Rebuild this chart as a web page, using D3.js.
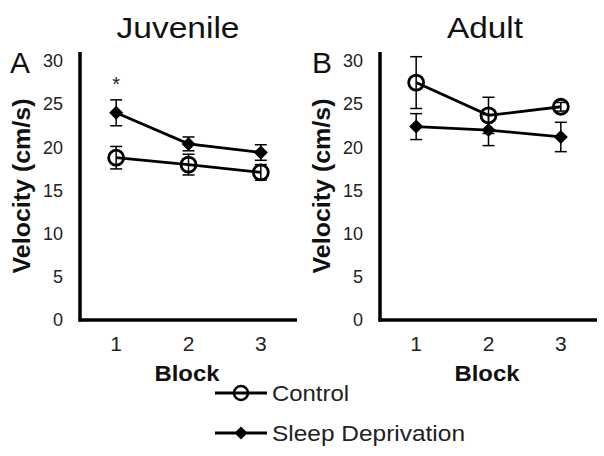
<!DOCTYPE html>
<html>
<head>
<meta charset="utf-8">
<style>
  body { margin: 0; background: #fff; }
  svg { font-family: "Liberation Sans", Arial, sans-serif; }
</style>
</head>
<body>
<svg width="604" height="456"></svg>
<script src="https://d3js.org/d3.v7.min.js"></script>
<script>
// data
const blocks = [1, 2, 3];
const yTicks = [0, 5, 10, 15, 20, 25, 30];

const juvControl = [18.8, 18.0, 17.1];
const juvControlErr = [1.3, 1.2, 0.9];
const juvSleep = [24.0, 20.4, 19.4];
const juvSleepErr = [1.5, 0.8, 0.9];

const adControl = [27.5, 23.7, 24.7];
const adControlErr = [3.0, 2.1, 0.5];
const adSleep = [22.4, 22.0, 21.2];
const adSleepErr = [1.5, 1.8, 1.7];

const panels = [
  { title: "Juvenile", letter: "A", x0: 80, titleX: 178, titleW: 123, letterX: 20,
    control: juvControl, controlErr: juvControlErr,
    sleep: juvSleep, sleepErr: juvSleepErr, star: [1] },
  { title: "Adult", letter: "B", x0: 380, titleX: 485, titleW: 76, letterX: 322,
    control: adControl, controlErr: adControlErr,
    sleep: adSleep, sleepErr: adSleepErr, star: [] }
];

const svg = d3.select("svg");
const plotTop = 52, plotBottom = 320, plotW = 217;

const y = d3.scaleLinear().domain([0, 30]).range([plotBottom, 61]);

function diamond(g, cx, cy, r) {
  g.append("path")
    .attr("d", `M${cx},${cy - r}L${cx + r},${cy}L${cx},${cy + r}L${cx - r},${cy}Z`)
    .attr("fill", "#000");
}

panels.forEach(p => {
  const g = svg.append("g");
  const x = d3.scalePoint().domain(blocks).range([p.x0, p.x0 + plotW]).padding(0.5);

  // axes lines
  g.append("line").attr("x1", p.x0).attr("x2", p.x0).attr("y1", plotTop).attr("y2", plotBottom + 1.5)
    .attr("stroke", "#000").attr("stroke-width", 3.5);
  g.append("line").attr("x1", p.x0 - 1.5).attr("x2", p.x0 + plotW).attr("y1", plotBottom).attr("y2", plotBottom)
    .attr("stroke", "#000").attr("stroke-width", 3.5);

  // tick labels
  g.selectAll(".yt").data(yTicks).join("text")
    .attr("x", p.x0 - 17).attr("y", d => y(d)).attr("dy", "0.35em")
    .attr("text-anchor", "end").attr("font-size", 18).attr("fill", "#222")
    .text(d => d);
  g.selectAll(".xt").data(blocks).join("text")
    .attr("x", d => x(d)).attr("y", 344).attr("dy", "0.35em")
    .attr("text-anchor", "middle").attr("font-size", 21).attr("fill", "#222")
    .text(d => d);

  g.append("text").attr("x", p.x0 + 107).attr("y", 373).attr("dy", "0.35em")
    .attr("text-anchor", "middle").attr("font-size", 22).attr("font-weight", "bold")
    .attr("textLength", 65).attr("lengthAdjust", "spacingAndGlyphs")
    .attr("fill", "#111").text("Block");

  g.append("text").attr("transform", `translate(${p.x0 - 58},186) rotate(-90)`)
    .attr("dy", "0.35em").attr("text-anchor", "middle").attr("font-size", 23)
    .attr("textLength", 175).attr("lengthAdjust", "spacingAndGlyphs")
    .attr("font-weight", "bold").attr("fill", "#111").text("Velocity (cm/s)");

  g.append("text").attr("x", p.titleX).attr("y", 27).attr("dy", "0.35em")
    .attr("text-anchor", "middle").attr("font-size", 30)
    .attr("textLength", p.titleW).attr("lengthAdjust", "spacingAndGlyphs")
    .attr("fill", "#111").text(p.title);

  g.append("text").attr("x", p.letterX).attr("y", 62).attr("dy", "0.35em")
    .attr("text-anchor", "middle").attr("font-size", 30).attr("fill", "#111").text(p.letter);

  const line = d3.line().x((d, i) => x(blocks[i])).y(d => y(d));

  [["sleep", "sleepErr"], ["control", "controlErr"]].forEach(([k, ek]) => {
    const vals = p[k], errs = p[ek];
    // error bars
    vals.forEach((v, i) => {
      const cx = x(blocks[i]);
      g.append("line").attr("x1", cx).attr("x2", cx).attr("y1", y(v - errs[i])).attr("y2", y(v + errs[i]))
        .attr("stroke", "#000").attr("stroke-width", 1.5);
      [v - errs[i], v + errs[i]].forEach(e => {
        g.append("line").attr("x1", cx - 6).attr("x2", cx + 6).attr("y1", y(e)).attr("y2", y(e))
          .attr("stroke", "#000").attr("stroke-width", 1.5);
      });
    });
    g.append("path").attr("d", line(vals)).attr("fill", "none")
      .attr("stroke", "#000").attr("stroke-width", 2.8);
    vals.forEach((v, i) => {
      const cx = x(blocks[i]);
      if (k === "control") {
        g.append("circle").attr("cx", cx).attr("cy", y(v)).attr("r", 7.5)
          .attr("fill", "none").attr("stroke", "#000").attr("stroke-width", 2.8);
      } else {
        diamond(g, cx, y(v), 7);
      }
    });
  });

  p.star.forEach(b => {
    g.append("text").attr("x", x(b)).attr("y", 91).attr("text-anchor", "middle")
      .attr("font-size", 20).attr("fill", "#222").text("*");
  });
});

// legend
const legend = svg.append("g");
const legendItems = ["Control", "Sleep Deprivation"];
const legendW = [77, 193];
legendItems.forEach((name, i) => {
  const ly = 393 + i * 40;
  legend.append("line").attr("x1", 215).attr("x2", 267).attr("y1", ly).attr("y2", ly)
    .attr("stroke", "#000").attr("stroke-width", 3);
  if (i === 0) {
    legend.append("circle").attr("cx", 241).attr("cy", ly).attr("r", 7)
      .attr("fill", "none").attr("stroke", "#000").attr("stroke-width", 2.5);
  } else {
    diamond(legend, 241, ly, 6.5);
  }
  legend.append("text").attr("x", 272).attr("y", ly).attr("dy", "0.35em")
    .attr("font-size", 22).attr("textLength", legendW[i]).attr("lengthAdjust", "spacingAndGlyphs")
    .attr("fill", "#222").text(name);
});
</script>
</body>
</html>
